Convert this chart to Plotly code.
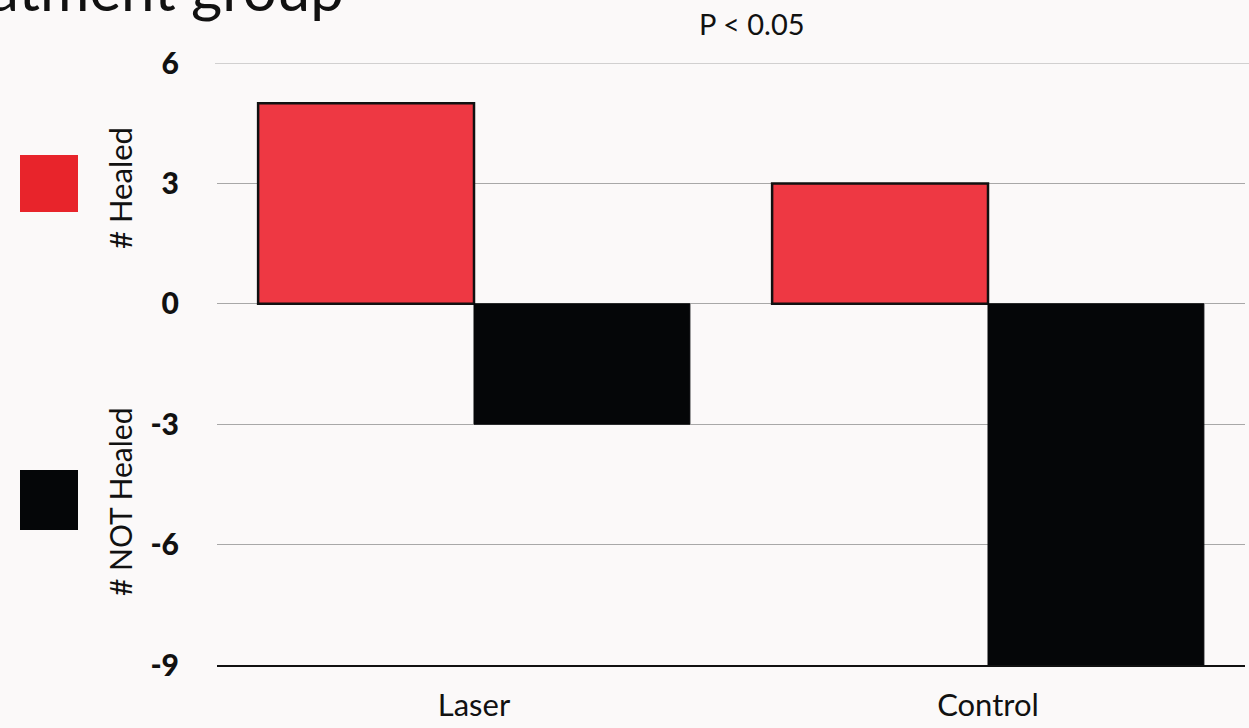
import plotly.graph_objects as go

categories = ["Laser", "Control"]
healed = [5, 3]
not_healed = [-3, -9]
tick_vals = [6, 3, 0, -3, -6, -9]
tick_text = ["6", "3", "0", "-3", "-6", "-9"]

W, H = 1249, 728
L, R, T, B = 217, 4, 63, 63
pw, ph = W - L - R, H - T - B

def px(x):
    return (x - L) / pw

def py(y):
    return (H - B - y) / ph

fig = go.Figure()
fig.add_trace(go.Bar(x=categories, y=healed, name="# Healed",
                     marker=dict(color="#ee3843", line=dict(color="#111111", width=2.5))))
fig.add_trace(go.Bar(x=categories, y=not_healed, name="# NOT Healed",
                     marker=dict(color="#050608", line=dict(color="#050608", width=1))))

font_family = "Lato, 'Open Sans', sans-serif"

fig.update_layout(
    width=W, height=H,
    margin=dict(l=L, r=R, t=T, b=B, autoexpand=False),
    barmode="group", bargap=0.16, bargroupgap=0,
    showlegend=False,
    paper_bgcolor="#fbf9f9", plot_bgcolor="rgba(0,0,0,0)",
    font=dict(family=font_family, color="#111111"),
    xaxis=dict(showline=True, linecolor="#111111", linewidth=2, showgrid=False,
               automargin=False,
               ticks="", tickfont=dict(size=31, family=font_family, color="#111111"),
               ticklabelstandoff=12),
    yaxis=dict(range=[-9, 6], tickvals=tick_vals, ticktext=tick_text,
               automargin=False,
               showgrid=True, gridcolor="#a8a8a8", gridwidth=1.2,
               zeroline=True, zerolinecolor="#a8a8a8", zerolinewidth=1.2,
               showline=False, ticks="",
               tickfont=dict(size=30, family="Lato Black, Lato, sans-serif", color="#111111"),
               ticklabelstandoff=37),
)

# top gridline at the axis maximum (plotly drops grid lines on the plot edge)
fig.add_shape(type="line", xref="paper", yref="y", x0=px(215), x1=px(1249),
              y0=tick_vals[0], y1=tick_vals[0], line=dict(color="#a8a8a8", width=1.2),
              layer="below")

# legend squares
fig.add_shape(type="rect", xref="paper", yref="paper",
              x0=px(20), x1=px(78), y0=py(212), y1=py(155),
              fillcolor="#e8242b", line=dict(width=0))
fig.add_shape(type="rect", xref="paper", yref="paper",
              x0=px(20), x1=px(78), y0=py(530), y1=py(470),
              fillcolor="#050608", line=dict(width=0))

fig.add_annotation(text="# Healed", xref="paper", yref="paper",
                   x=px(120), y=py(188), textangle=-90, showarrow=False,
                   xanchor="center", yanchor="middle",
                   font=dict(size=31, family=font_family, color="#111111"))
fig.add_annotation(text="# NOT Healed", xref="paper", yref="paper",
                   x=px(120), y=py(502), textangle=-90, showarrow=False,
                   xanchor="center", yanchor="middle",
                   font=dict(size=30, family=font_family, color="#111111"))

fig.add_annotation(text="P < 0.05", xref="paper", yref="paper",
                   x=px(752), y=py(23), showarrow=False,
                   xanchor="center", yanchor="middle",
                   font=dict(size=29, family=font_family, color="#111111"))

# title, cropped at the top-left edge as in the source image
fig.add_annotation(text="Treatment group", xref="paper", yref="paper",
                   x=px(346), y=py(26), xanchor="right", yanchor="bottom",
                   showarrow=False,
                   font=dict(size=60, family=font_family, color="#111111"))

fig.write_html("out.html", config={"displayModeBar": False},
               post_script=["document.body.style.margin='0';document.body.style.overflow='hidden';"])
